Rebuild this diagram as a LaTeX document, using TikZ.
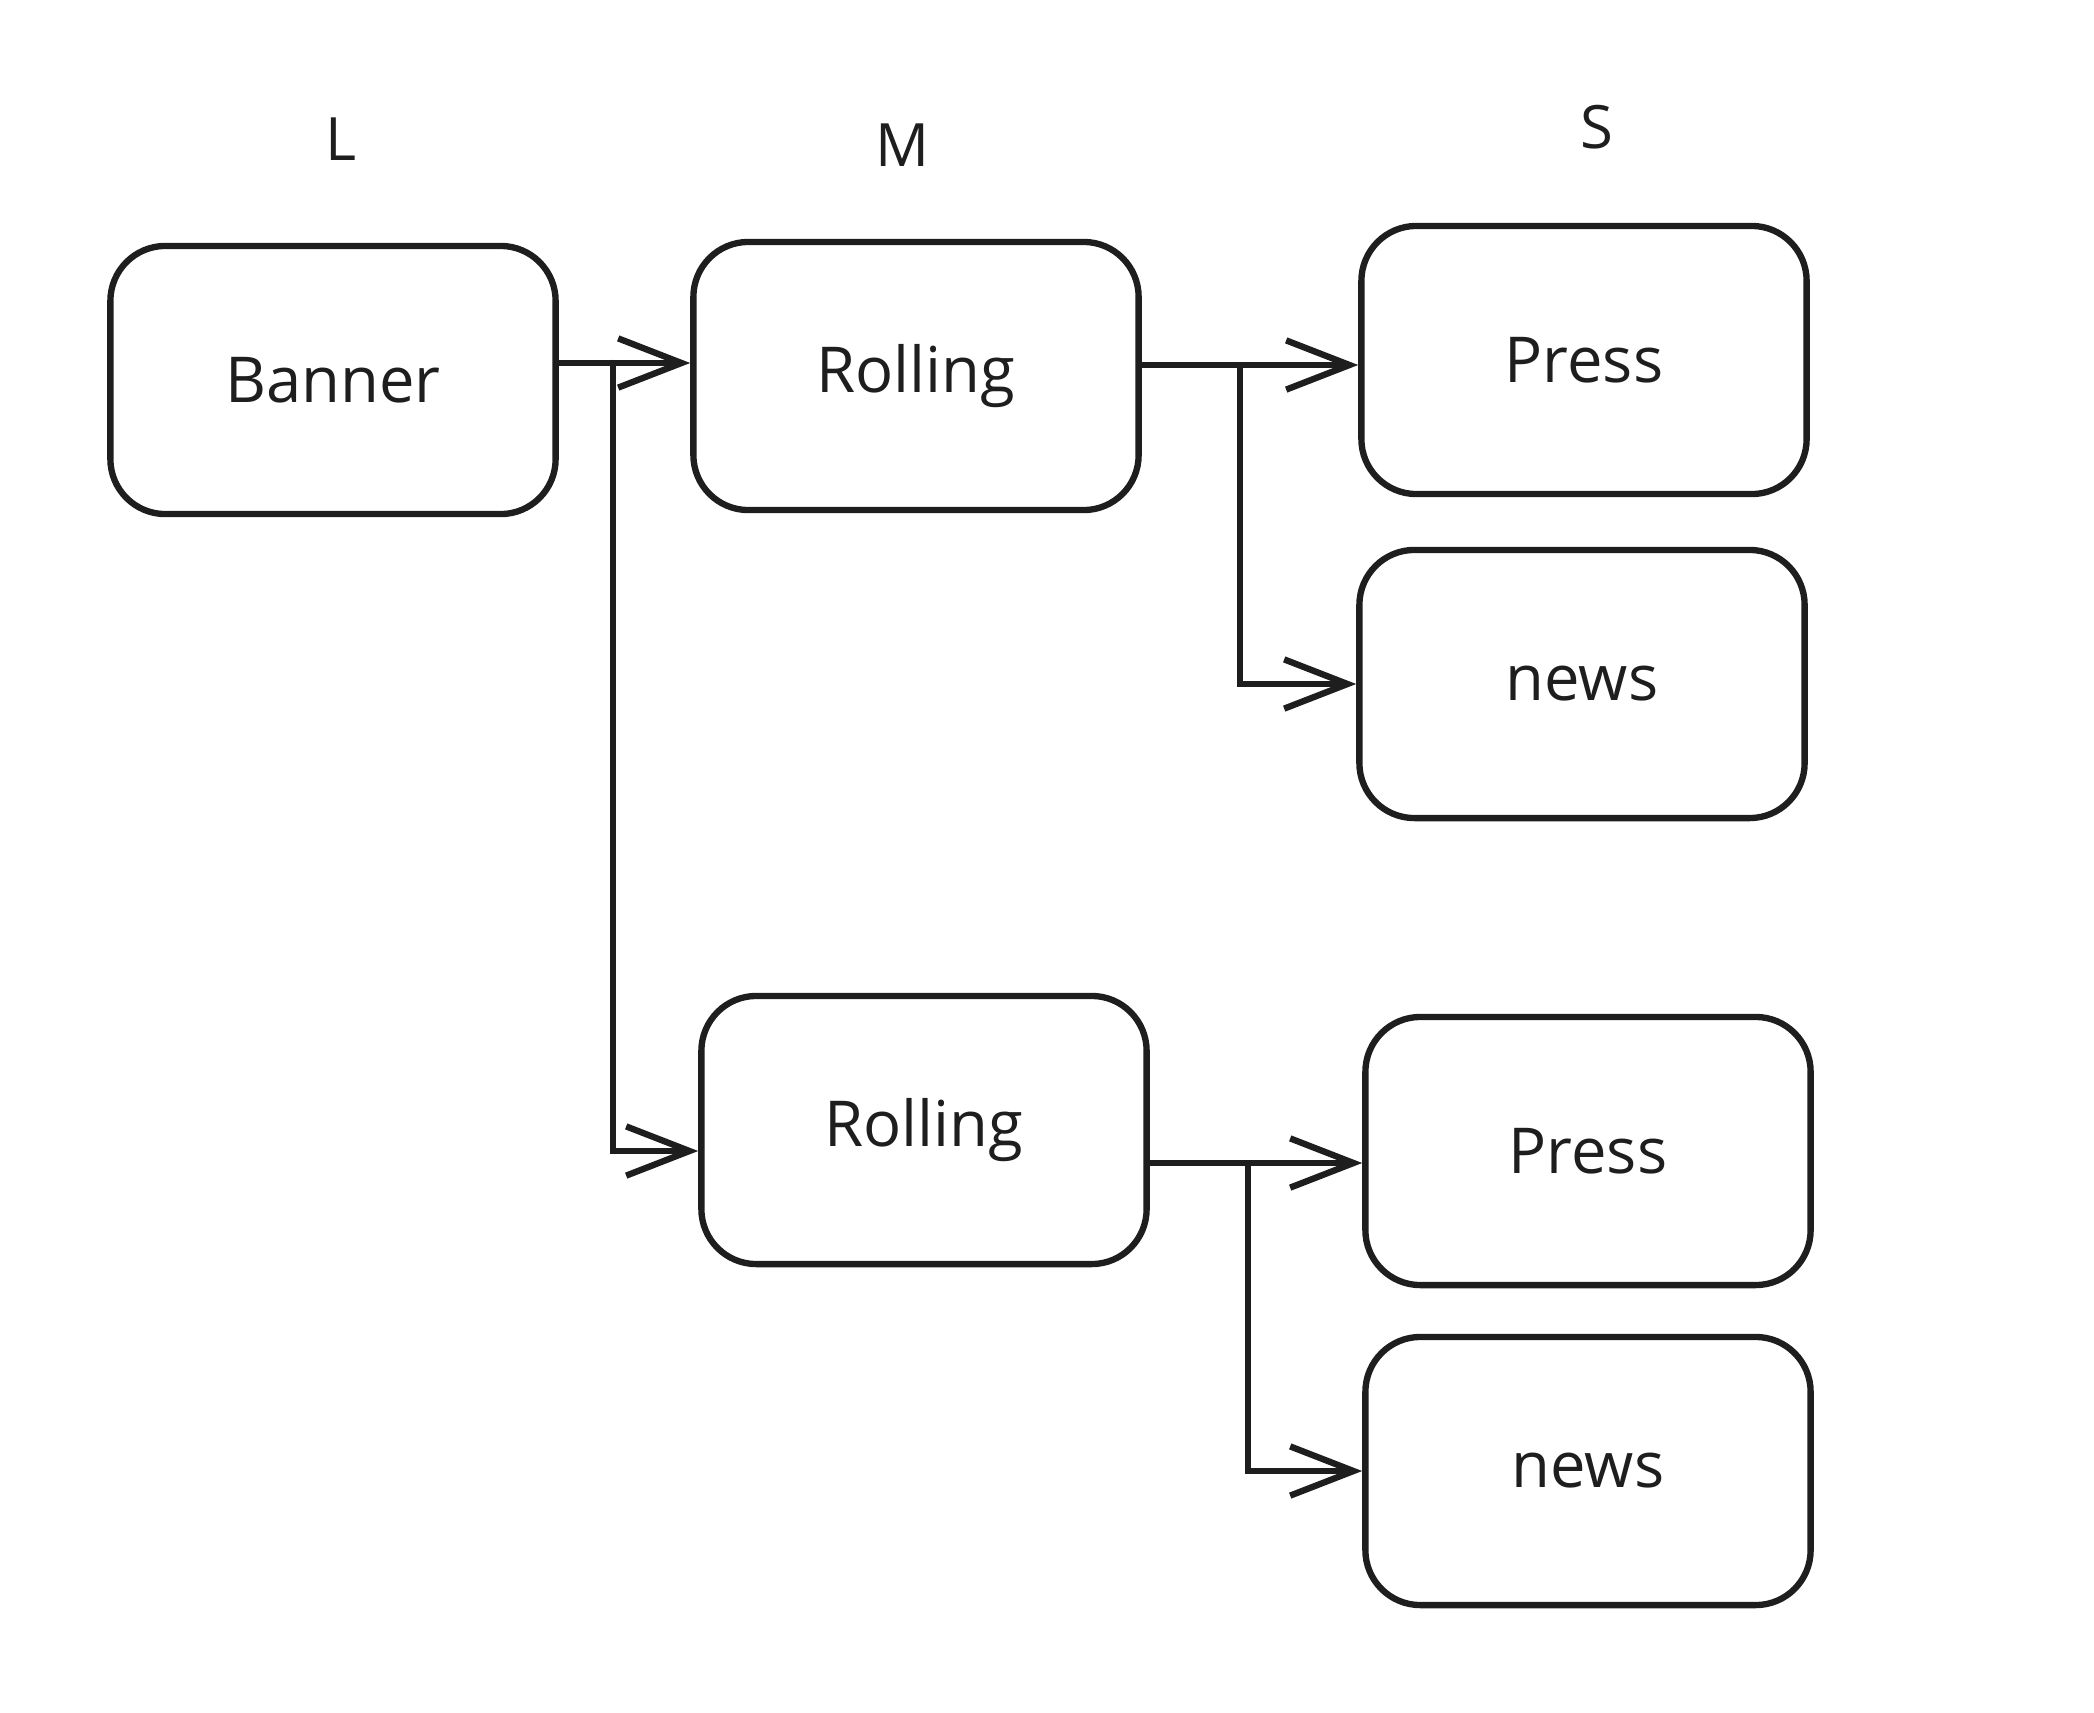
\documentclass[tikz,border=0pt]{standalone}
\usepackage{fontspec}
\setmainfont{Open Sans}
\usetikzlibrary{arrows.meta}
\definecolor{ink}{HTML}{1E1E1E}
\begin{document}
\begin{tikzpicture}[x=0.01cm,y=-0.01cm]
\tikzstyle{every node}+=[inner sep=0pt]
\tikzstyle{card}=[draw=ink,line width=1.8pt,rounded corners=0.55cm,minimum width=4.45cm,minimum height=2.68cm,font=\fontsize{18}{22}\selectfont,text=ink]
\tikzstyle{head}=[font=\fontsize{17}{20}\selectfont,text=ink]
\tikzstyle{link}=[draw=ink,line width=1.8pt,line cap=round,-{Straight Barb[length=18pt,width=14pt,line width=1.8pt]}]
\useasboundingbox (0,0) rectangle (2094,1712);
\node [head] (hl) at (341,139) {L};
\node [head] (hm) at (902,145) {M};
\node [head] (hs) at (1597,127) {S};
\node [card] (banner) at (333,380) {Banner};
\node [card] (roll1) at (916,376) {Rolling};
\node [card] (press1) at (1584,360) {Press};
\node [card] (news1) at (1582,684) {news};
\node [card] (roll2) at (924,1130) {Rolling};
\node [card] (press2) at (1588,1151) {Press};
\node [card] (news2) at (1588,1471) {news};
\coordinate (j1) at (613,363);
\coordinate (j1b) at (613,1151);
\coordinate (j2) at (1240,365);
\coordinate (j3) at (1248,1163);
\draw [link] (banner.east |- j1) -- (roll1.west |- j1);
\draw [link] (j1) -- (j1b) -- (roll2.west |- j1b);
\draw [link] (roll1.east |- j2) -- (press1.west |- j2);
\draw [link] (j2) |- (news1.west);
\draw [link] (roll2.east |- j3) -- (press2.west |- j3);
\draw [link] (j3) |- (news2.west);
\end{tikzpicture}
\end{document}
